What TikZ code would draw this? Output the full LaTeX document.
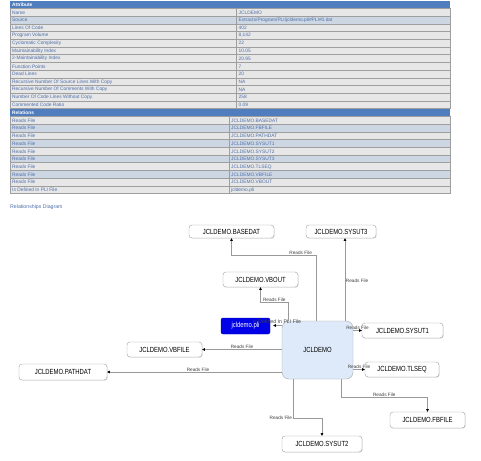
\documentclass[tikz,border=0pt]{standalone}
\usepackage{fontspec}
\setmainfont{Liberation Sans}
\newfontfamily\boxfont{Liberation Sans}[FakeStretch=0.8]
\usetikzlibrary{positioning,arrows.meta,shadows}
\definecolor{hdrblue}{RGB}{79,125,190}
\definecolor{rowgrey}{RGB}{231,231,231}
\definecolor{rowblue}{RGB}{205,215,228}
\definecolor{cellline}{RGB}{158,158,158}
\definecolor{celltext}{RGB}{78,110,168}
\definecolor{mainfill}{RGB}{222,234,250}
\definecolor{plifill}{RGB}{0,0,232}
\tikzset{
  cell/.style={anchor=west, inner sep=0pt, text=celltext, font=\fontsize{4.85}{5}\selectfont},
  head/.style={anchor=west, inner sep=0pt, text=white, font=\bfseries\fontsize{4.85}{5}\selectfont},
  file/.style={draw=gray!75, fill=white, rounded corners=3pt, minimum height=15, inner sep=0pt,
    font=\boxfont\fontsize{7.4}{8}\selectfont,
    drop shadow={opacity=0.25, shadow xshift=0.7pt, shadow yshift=-0.7pt}},
  prog/.style={draw=gray!70, fill=mainfill, rounded corners=7pt, minimum width=71, minimum height=58,
    inner sep=0pt, font=\boxfont\fontsize{7.4}{8}\selectfont},
  pli/.style={draw=blue!60!black, fill=plifill, rounded corners=2pt, minimum width=49, minimum height=16,
    inner sep=0pt, text=white, font=\boxfont\fontsize{7.4}{8}\selectfont},
  rel/.style={draw=gray!80, line width=0.6pt, -{Triangle[length=2.6pt,width=2.6pt,color=black]}},
  lbl/.style={inner sep=0.6pt, text=black!75, font=\fontsize{4.7}{5}\selectfont}
}
\begin{document}
\begin{tikzpicture}[x=1pt,y=-1pt]
\useasboundingbox (0,0) rectangle (481,460);

% attribute table
\fill[hdrblue] (10,0.8) rectangle (450,8.52);
\node[head] (attrhead) at (12,4.66) {Attribute};
\foreach \k/\attr/\val in {1/Name/JCLDEMO, 3/Lines Of Code/402, 4/Program Volume/{8,142},
    5/Cyclomatic Complexity/22, 6/Maintainability Index/10.05, 7/2-Maintainability Index/20.95,
    8/Function Points/7, 9/Dead Lines/20, 10/Recursive Number Of Source Lines With Copy/NA,
    11/Recursive Number Of Comments With Copy/NA, 12/Number Of Code Lines Without Copy/258,
    13/Commented Code Ratio/0.09}{
  \filldraw[fill=rowgrey, draw=cellline, line width=0.9pt] (10,0.8+7.72*\k) rectangle (236.7,8.52+7.72*\k);
  \filldraw[fill=rowgrey, draw=cellline, line width=0.9pt] (236.7,0.8+7.72*\k) rectangle (450,8.52+7.72*\k);
  \node[cell] (attr-\k) at (12,4.66+7.72*\k) {\attr};
  \node[cell] (val-\k) at (238.5,4.66+7.72*\k) {\val};
}
\filldraw[fill=rowblue, draw=cellline, line width=0.9pt] (10,16.24) rectangle (236.7,23.96);
\filldraw[fill=rowblue, draw=cellline, line width=0.9pt] (236.7,16.24) rectangle (450,23.96);
\node[cell] (attr-2) at (12,20.1) {Source};
\node[cell] (val-2) at (238.5,20.1) {Extracts/Program/PLI/jcldemo.pli\#PLI\#0.dat};

% relations table
\fill[hdrblue] (10,108.88) rectangle (450,116.6);
\node[head] (relhead) at (12,112.74) {Relations};
\foreach \k/\kind/\target/\shade in {15/Reads File/JCLDEMO.BASEDAT/rowgrey, 16/Reads File/JCLDEMO.FBFILE/rowblue,
    17/Reads File/JCLDEMO.PATHDAT/rowgrey, 18/Reads File/JCLDEMO.SYSUT1/rowblue,
    19/Reads File/JCLDEMO.SYSUT2/rowgrey, 20/Reads File/JCLDEMO.SYSUT3/rowblue,
    21/Reads File/JCLDEMO.TLSEQ/rowgrey, 22/Reads File/JCLDEMO.VBFILE/rowblue,
    23/Reads File/JCLDEMO.VBOUT/rowgrey, 24/Is Defined In PLI File/jcldemo.pli/rowgrey}{
  \filldraw[fill=\shade, draw=cellline, line width=0.9pt] (10,0.8+7.72*\k) rectangle (229,8.52+7.72*\k);
  \filldraw[fill=\shade, draw=cellline, line width=0.9pt] (229,0.8+7.72*\k) rectangle (450,8.52+7.72*\k);
  \node[cell] (kind-\k) at (12,4.66+7.72*\k) {\kind};
  \node[cell] (target-\k) at (231,4.66+7.72*\k) {\target};
}

\node[cell, font=\fontsize{5.2}{6}\selectfont] (diagtitle) at (10,207) {Relationships Diagram};

% diagram
\node[prog] (Main) at (317.5,350) {JCLDEMO};
\node[file, minimum width=85, minimum height=13] (Basedat) at (231.5,231.5) {JCLDEMO.BASEDAT};
\node[file, minimum width=70, minimum height=13] (Sysut3) at (341,231.5) {JCLDEMO.SYSUT3};
\node[file, minimum width=75] (Vbout) at (260.5,279.5) {JCLDEMO.VBOUT};
\node[pli] (Pli) at (245.5,326) {jcldemo.pli};
\node[file, minimum width=81] (Sysut1) at (402.5,330.5) {JCLDEMO.SYSUT1};
\node[file, minimum width=74] (Tlseq) at (402,369.5) {JCLDEMO.TLSEQ};
\node[file, minimum width=75, minimum height=16] (Fbfile) at (427.5,420) {JCLDEMO.FBFILE};
\node[file, minimum width=80, minimum height=16] (Sysut2) at (322,444) {JCLDEMO.SYSUT2};
\node[file, minimum width=75] (Vbfile) at (164.5,349.5) {JCLDEMO.VBFILE};
\node[file, minimum width=88, minimum height=16] (Pathdat) at (63,372) {JCLDEMO.PATHDAT};

\coordinate (toBasedat) at (316.7,255);
\coordinate (toSysut3) at (345,300);
\coordinate (toVbout) at (288,302);
\coordinate (toFbfile) at (341,397);
\coordinate (toSysut2) at (293,418);
\coordinate (toPli) at (282,325.5);

\draw[rel] (Main.north -| toBasedat) -- (toBasedat) -| node[lbl, above, pos=0.094] {Reads File} (Basedat.south);
\draw[rel] (Main.north -| toSysut3) -- node[lbl, right, pos=0.48] {Reads File} (Sysut3.south -| toSysut3);
\draw[rel] (Main.north -| toVbout) -- (toVbout) -| node[lbl, above, pos=0.25] {Reads File} (Vbout.south);
\draw[rel] (Main.east |- Sysut1) -- node[lbl, above] {Reads File} (Sysut1.west);
\draw[rel] (Main.east |- Tlseq) -- node[lbl, above] {Reads File} (Tlseq.west);
\draw[rel] (Main.south -| toFbfile) -- (toFbfile) -| node[lbl, above, pos=0.25] {Reads File} (Fbfile.north);
\draw[rel] (Main.south -| toSysut2) -- (toSysut2) -| node[lbl, left, pos=0] {Reads File} (Sysut2.north);
\draw[rel] (Main.west |- Vbfile) -- node[lbl, above] {Reads File} (Vbfile.east);
\draw[rel] (Main.west |- Pathdat) -- node[lbl, above, pos=0.48] {Reads File} (Pathdat.east);
\draw[rel, shorten >=3pt] (toPli) -- node[lbl, above, pos=0, xshift=-5pt, yshift=1pt, font=\fontsize{5.2}{6}\selectfont] {Is Defined In PLI File} (Pli.east |- toPli);
\end{tikzpicture}
\end{document}
